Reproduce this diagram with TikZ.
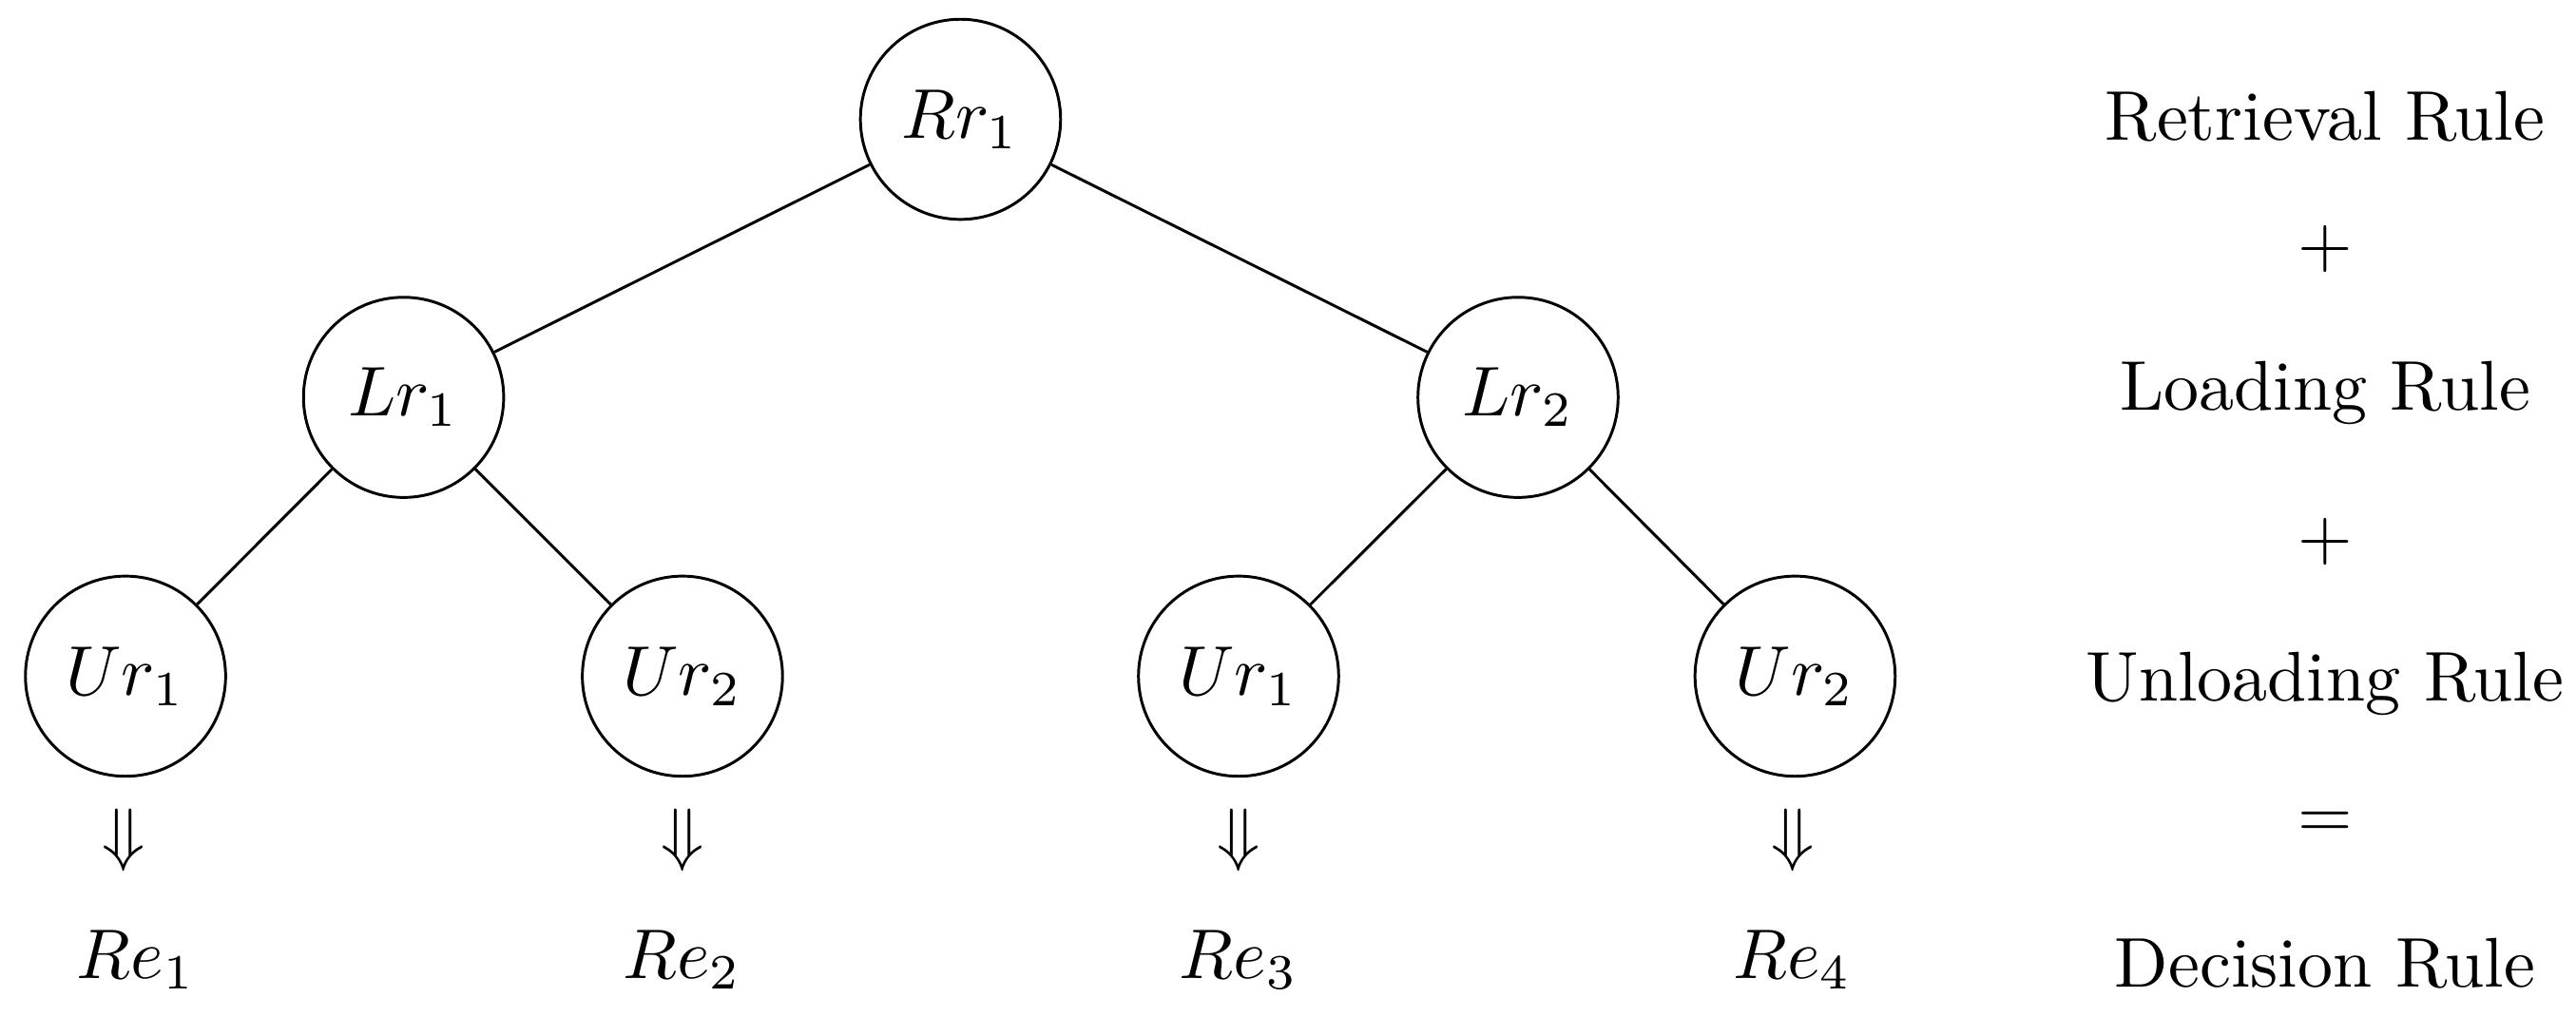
\documentclass[tikz,border=0pt]{standalone}
\begin{document}
\begin{tikzpicture}[
  rule/.style={circle, draw, line width=0.4pt, minimum size=1cm, inner sep=0pt},
  lbl/.style={anchor=base, inner sep=0pt, outer sep=0pt},
  mid/.style={anchor=center, inner sep=0pt, outer sep=0pt}
]
\useasboundingbox (0,0) rectangle (12.868,-5.076);
% tree nodes
\node[rule] (rr1) at (4.798,-0.596) {$Rr_1$};
\node[rule] (lr1) at (2.016,-1.985) {$Lr_1$};
\node[rule] (lr2) at (7.583,-1.985) {$Lr_2$};
\node[rule] (ura) at (0.627,-3.378) {$Ur_1$};
\node[rule] (urb) at (3.409,-3.378) {$Ur_2$};
\node[rule] (urc) at (6.187,-3.378) {$Ur_1$};
\node[rule] (urd) at (8.967,-3.378) {$Ur_2$};
% edges
\draw (rr1) -- (lr1);
\draw (rr1) -- (lr2);
\draw (lr1) -- (ura);
\draw (lr1) -- (urb);
\draw (lr2) -- (urc);
\draw (lr2) -- (urd);
% implication arrows and results
\node[lbl] (da) at (0.620,-4.283) {$\Downarrow$};
\node[lbl] (db) at (3.409,-4.283) {$\Downarrow$};
\node[lbl] (dc) at (6.187,-4.283) {$\Downarrow$};
\node[lbl] (dd) at (8.955,-4.283) {$\Downarrow$};
\node[lbl] (rea) at (0.680,-4.886) {$Re_1$};
\node[lbl] (reb) at (3.409,-4.886) {$Re_2$};
\node[lbl] (rec) at (6.187,-4.886) {$Re_3$};
\node[lbl] (red) at (8.955,-4.886) {$Re_4$};
% right column
\node[lbl] (t1) at (11.614,-0.698) {Retrieval Rule};
\node[lbl] (p1) at (11.614,-1.332) {$+$};
\node[lbl] (t2) at (11.614,-2.047) {Loading Rule};
\node[lbl] (p2) at (11.614,-2.794) {$+$};
\node[lbl] (t3) at (11.614,-3.500) {Unloading Rule};
\node[lbl] (eq) at (11.614,-4.186) {$=$};
\node[lbl] (t4) at (11.614,-4.929) {Decision Rule};
\end{tikzpicture}
\end{document}
